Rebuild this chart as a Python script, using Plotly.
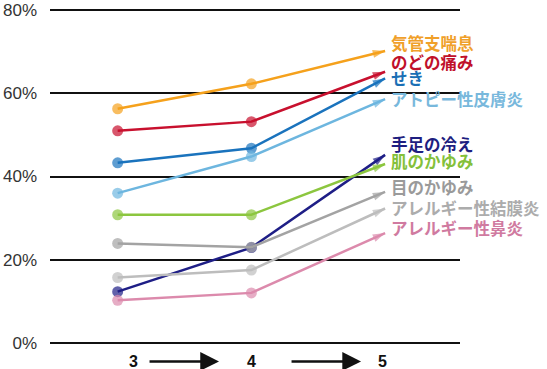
import plotly.graph_objects as go

grades = [3, 4, 5]
grade_labels = ["3", "4", "5"]
series_names = ["気管支喘息", "のどの痛み", "せき", "アトピー性皮膚炎", "手足の冷え",
                "肌のかゆみ", "目のかゆみ", "アレルギー性結膜炎", "アレルギー性鼻炎"]
asthma = [56.3, 62.3, 70.2]
throat = [51.0, 53.2, 65.2]
cough = [43.3, 46.8, 63.6]
atopy = [36.0, 44.8, 58.6]
cold_limbs = [12.3, 22.9, 45.2]
itchy_skin = [30.8, 30.8, 43.0]
itchy_eyes = [23.9, 23.0, 36.3]
conjunctivitis = [15.7, 17.5, 32.3]
rhinitis = [10.2, 12.0, 26.4]
y_ticks = [0, 20, 40, 60, 80]
y_tick_labels = ["0%", "20%", "40%", "60%", "80%"]

values = [asthma, throat, cough, atopy, cold_limbs, itchy_skin, itchy_eyes, conjunctivitis, rhinitis]
line_colors = ["#f5a11c", "#c8102e", "#1a73bd", "#6db6df", "#1e1e86",
               "#8cc63f", "#a3a3a3", "#bdbdbd", "#dc8aac"]
label_colors = ["#f0a02a", "#c0102a", "#1a6fb5", "#78b8dc", "#1e1e80",
                "#84c03a", "#9a9a9a", "#acacac", "#d07aa0"]
label_yshift = [8, 10, 0, 0, 11, 3, 5, 1, 5]

fig = go.Figure()
for name, vals, col in zip(series_names, values, line_colors):
    fig.add_trace(go.Scatter(
        x=grades, y=vals, mode="lines+markers", name=name,
        line=dict(color=col, width=2.5),
        marker=dict(symbol="circle", size=[11, 11, 0], color=col, line=dict(width=0)),
        cliponaxis=False, showlegend=False,
    ))
    fig.add_trace(go.Scatter(
        x=grades[1:], y=vals[1:], mode="markers", name=name,
        marker=dict(symbol="arrow", size=[0, 13], angleref="previous", color=col,
                    line=dict(width=0)),
        cliponaxis=False, showlegend=False, hoverinfo="skip",
    ))

annotations = []
for name, vals, col, ys in zip(series_names, values, label_colors, label_yshift):
    annotations.append(dict(
        x=grades[-1], y=vals[-1], xref="x", yref="y", text="<b>" + name + "</b>",
        showarrow=False, xanchor="left", yanchor="middle", xshift=4, yshift=ys,
        font=dict(family="Noto Sans CJK JP", size=16.5, color=col),
    ))

# x-axis labels with arrows between them
label_xshift = [16, 0, -3]
for g, t, xs in zip(grades, grade_labels, label_xshift):
    annotations.append(dict(
        x=g, y=-0.052, xref="x", yref="paper", text="<b>" + t + "</b>", showarrow=False,
        xshift=xs, yanchor="middle",
        font=dict(family="Liberation Sans, Arial", size=16, color="#111"),
    ))
for x1 in [3.758, 4.82]:
    annotations.append(dict(
        x=x1, y=-0.052, ax=-71, ay=0, xref="x", yref="paper", axref="pixel", ayref="pixel",
        text="", showarrow=True, arrowhead=2, arrowsize=1.5, arrowwidth=2.5, arrowcolor="#111",
    ))

fig.update_layout(
    width=547, height=369,
    margin=dict(l=50, r=87, t=9, b=25),
    plot_bgcolor="white", paper_bgcolor="white",
    annotations=annotations,
    xaxis=dict(range=[2.494, 5.56], showticklabels=False, showgrid=False,
               zeroline=False, showline=False, fixedrange=True, automargin=False),
    yaxis=dict(range=[-0.3, 80.3], tickvals=y_ticks, ticktext=y_tick_labels,
               showgrid=True, gridcolor="#111", gridwidth=2, zeroline=False,
               showline=False, ticklabelstandoff=12, automargin=False,
               tickfont=dict(family="Liberation Sans, Arial", size=17, color="#333")),
)

fig.write_html("out.html", config={"displayModeBar": False},
               post_script="document.body.style.margin='0';")
